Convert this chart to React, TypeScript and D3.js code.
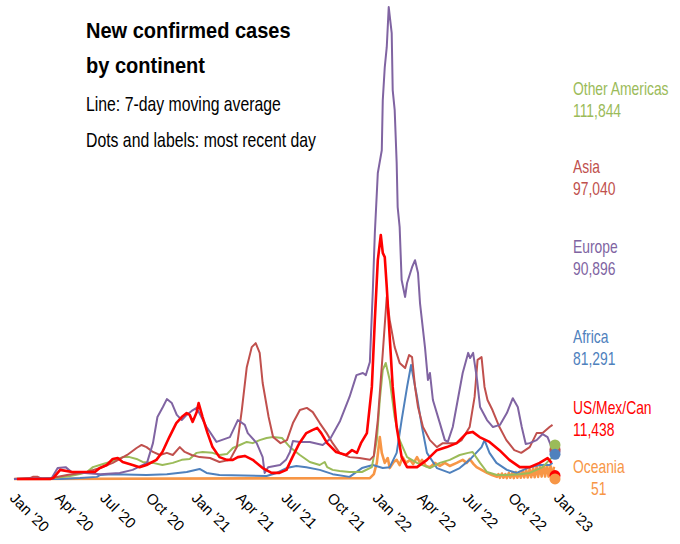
import React from "react";
import * as d3 from "d3";

// 7-day moving averages, thousands of new cases per day
const oceania: [string, number][] = [
  ["2020-01-05", 0], ["2021-12-22", 3], ["2021-12-30", 16], ["2022-01-05", 53], ["2022-01-11", 138],
  ["2022-01-15", 86], ["2022-01-21", 53], ["2022-01-27", 69], ["2022-01-31", 36], ["2022-02-08", 56],
  ["2022-02-14", 63], ["2022-02-20", 46], ["2022-02-26", 72], ["2022-03-05", 53], ["2022-03-13", 63],
  ["2022-03-19", 49], ["2022-03-27", 72], ["2022-04-02", 53], ["2022-04-06", 63], ["2022-04-14", 43],
  ["2022-04-22", 39], ["2022-05-02", 53], ["2022-05-12", 43], ["2022-05-22", 53], ["2022-06-01", 43],
  ["2022-06-15", 53], ["2022-06-27", 63], ["2022-07-05", 53], ["2022-07-11", 66], ["2022-07-19", 49],
  ["2022-07-25", 39], ["2022-08-04", 30], ["2022-08-15", 20], ["2022-08-25", 13], ["2022-09-04", 7],
  ["2022-09-07", 16], ["2022-09-10", 4], ["2022-09-14", 18], ["2022-09-17", 4], ["2022-09-21", 16],
  ["2022-09-24", 3], ["2022-09-28", 20], ["2022-10-01", 4], ["2022-10-05", 20], ["2022-10-08", 3],
  ["2022-10-12", 23], ["2022-10-15", 4], ["2022-10-19", 23], ["2022-10-22", 4], ["2022-10-26", 26],
  ["2022-10-29", 5], ["2022-11-02", 30], ["2022-11-05", 5], ["2022-11-09", 33], ["2022-11-12", 6],
  ["2022-11-16", 36], ["2022-11-19", 6], ["2022-11-23", 40], ["2022-11-26", 7], ["2022-11-30", 43],
  ["2022-12-03", 8], ["2022-12-07", 46], ["2022-12-10", 8], ["2022-12-14", 46], ["2022-12-17", 8],
  ["2022-12-21", 43], ["2022-12-24", 8], ["2022-12-28", 40],
];

const africa: [string, number][] = [
  ["2020-01-05", 0], ["2020-04-07", 0], ["2020-05-17", 3], ["2020-06-20", 7], ["2020-06-26", 13],
  ["2020-07-22", 16], ["2020-09-28", 13], ["2020-11-08", 16], ["2020-12-18", 23], ["2021-01-13", 33],
  ["2021-01-27", 20], ["2021-02-22", 13], ["2021-05-28", 10], ["2021-06-17", 20], ["2021-07-07", 36],
  ["2021-07-27", 43], ["2021-08-16", 39], ["2021-09-12", 30], ["2021-10-08", 16], ["2021-11-11", 7],
  ["2021-12-06", 36], ["2021-12-28", 46], ["2022-01-17", 36], ["2022-01-31", 39], ["2022-02-14", 86],
  ["2022-02-24", 194], ["2022-03-07", 303], ["2022-03-15", 375], ["2022-03-27", 270], ["2022-04-06", 171],
  ["2022-04-16", 86], ["2022-05-06", 36], ["2022-06-01", 20], ["2022-06-21", 36], ["2022-07-11", 63],
  ["2022-08-04", 105], ["2022-08-10", 128], ["2022-08-20", 86], ["2022-09-03", 53], ["2022-09-24", 30],
  ["2022-10-14", 20], ["2022-11-09", 39], ["2022-11-29", 46], ["2022-12-19", 46], ["2022-12-25", 53],
];

const otherAmericas: [string, number][] = [
  ["2020-01-05", 0], ["2020-03-27", 3], ["2020-04-27", 10], ["2020-05-17", 16], ["2020-05-31", 23],
  ["2020-06-12", 39], ["2020-06-26", 46], ["2020-07-16", 56], ["2020-08-11", 72], ["2020-08-25", 72],
  ["2020-09-08", 66], ["2020-09-20", 56], ["2020-10-11", 53], ["2020-10-30", 46], ["2020-11-20", 53],
  ["2020-12-08", 63], ["2020-12-24", 66], ["2021-01-07", 86], ["2021-01-19", 89], ["2021-02-08", 86],
  ["2021-02-22", 79], ["2021-03-09", 82], ["2021-03-21", 102], ["2021-04-04", 112], ["2021-04-18", 122],
  ["2021-04-30", 118], ["2021-05-14", 128], ["2021-05-28", 135], ["2021-06-10", 138], ["2021-06-28", 135],
  ["2021-07-14", 105], ["2021-08-03", 79], ["2021-08-23", 56], ["2021-09-12", 46], ["2021-09-22", 56],
  ["2021-09-27", 39], ["2021-10-08", 30], ["2021-10-22", 26], ["2021-11-11", 23], ["2021-12-06", 23],
  ["2021-12-26", 39], ["2022-01-05", 128], ["2022-01-11", 260], ["2022-01-17", 359], ["2022-01-23", 382],
  ["2022-01-31", 326], ["2022-02-10", 204], ["2022-02-20", 128], ["2022-03-07", 72], ["2022-03-27", 53],
  ["2022-04-22", 36], ["2022-05-12", 53], ["2022-06-01", 63], ["2022-06-21", 79], ["2022-07-08", 86],
  ["2022-07-17", 89], ["2022-08-01", 53], ["2022-08-15", 23], ["2022-09-04", 13], ["2022-09-24", 13],
  ["2022-10-20", 16], ["2022-11-09", 20], ["2022-12-05", 39], ["2022-12-19", 63], ["2022-12-25", 72],
];

const asia: [string, number][] = [
  ["2020-01-05", 0], ["2020-02-06", 3], ["2020-02-12", 7], ["2020-02-22", 7], ["2020-03-01", 0],
  ["2020-03-21", 3], ["2020-04-21", 13], ["2020-05-31", 23], ["2020-06-26", 36], ["2020-07-22", 53],
  ["2020-08-20", 79], ["2020-09-08", 102], ["2020-09-18", 112], ["2020-09-28", 105], ["2020-10-11", 89],
  ["2020-10-25", 79], ["2020-11-08", 86], ["2020-11-20", 79], ["2020-12-04", 105], ["2020-12-14", 89],
  ["2020-12-28", 79], ["2021-01-13", 72], ["2021-02-03", 69], ["2021-02-22", 56], ["2021-03-15", 63],
  ["2021-03-29", 105], ["2021-04-08", 227], ["2021-04-18", 368], ["2021-04-28", 434], ["2021-05-06", 447],
  ["2021-05-14", 415], ["2021-05-20", 316], ["2021-06-01", 204], ["2021-06-10", 138], ["2021-06-25", 118],
  ["2021-07-08", 128], ["2021-07-20", 184], ["2021-08-03", 227], ["2021-08-17", 234], ["2021-08-29", 220],
  ["2021-09-12", 184], ["2021-09-26", 151], ["2021-10-08", 118], ["2021-10-22", 86], ["2021-11-11", 72],
  ["2021-12-01", 69], ["2021-12-22", 63], ["2021-12-30", 76], ["2022-01-07", 194], ["2022-01-17", 415],
  ["2022-01-25", 599], ["2022-01-31", 523], ["2022-02-10", 434], ["2022-02-20", 382], ["2022-03-03", 365],
  ["2022-03-11", 408], ["2022-03-17", 401], ["2022-03-23", 303], ["2022-03-29", 237], ["2022-04-08", 171],
  ["2022-04-22", 128], ["2022-05-06", 105], ["2022-05-18", 118], ["2022-06-15", 118], ["2022-06-25", 128],
  ["2022-07-11", 171], ["2022-07-21", 270], ["2022-07-27", 392], ["2022-08-04", 401], ["2022-08-10", 303],
  ["2022-08-16", 260], ["2022-08-26", 227], ["2022-09-09", 171], ["2022-09-23", 128], ["2022-10-09", 95],
  ["2022-10-23", 86], ["2022-11-09", 105], ["2022-11-23", 151], ["2022-12-05", 151], ["2022-12-19", 171],
  ["2022-12-25", 178],
];

const europe: [string, number][] = [
  ["2020-01-05", 0], ["2020-03-21", 3], ["2020-04-02", 36], ["2020-04-18", 39], ["2020-04-30", 23],
  ["2020-05-27", 20], ["2020-06-27", 16], ["2020-08-05", 20], ["2020-08-31", 30], ["2020-09-29", 53],
  ["2020-10-11", 118], ["2020-10-20", 204], ["2020-10-31", 237], ["2020-11-08", 263], ["2020-11-18", 250],
  ["2020-11-28", 211], ["2020-12-08", 194], ["2020-12-18", 211], ["2020-12-28", 224], ["2021-01-07", 234],
  ["2021-01-27", 171], ["2021-02-16", 122], ["2021-02-26", 128], ["2021-03-15", 138], ["2021-03-31", 194],
  ["2021-04-14", 178], ["2021-04-20", 151], ["2021-05-08", 118], ["2021-05-20", 72], ["2021-05-24", 20],
  ["2021-05-31", 39], ["2021-06-24", 46], ["2021-07-06", 63], ["2021-07-14", 89], ["2021-07-20", 125],
  ["2021-08-03", 122], ["2021-08-23", 122], ["2021-09-18", 112], ["2021-10-03", 132], ["2021-10-23", 191],
  ["2021-11-11", 270], ["2021-11-25", 342], ["2021-12-08", 349], ["2021-12-14", 342], ["2021-12-22", 385],
  ["2021-12-28", 622], ["2022-01-01", 809], ["2022-01-07", 1007], ["2022-01-15", 1082], ["2022-01-17", 1247],
  ["2022-01-21", 1355], ["2022-01-25", 1421], ["2022-01-29", 1553], ["2022-02-04", 1467], ["2022-02-06", 1280],
  ["2022-02-10", 1214], ["2022-02-14", 1040], ["2022-02-16", 895], ["2022-02-20", 829], ["2022-02-24", 655],
  ["2022-03-03", 599], ["2022-03-07", 645], ["2022-03-17", 697], ["2022-03-23", 720], ["2022-03-29", 678],
  ["2022-04-02", 579], ["2022-04-12", 434], ["2022-04-18", 326], ["2022-04-22", 349], ["2022-04-28", 260],
  ["2022-05-12", 184], ["2022-05-22", 128], ["2022-05-28", 122], ["2022-06-07", 171], ["2022-06-17", 260],
  ["2022-06-27", 349], ["2022-07-08", 415], ["2022-07-12", 398], ["2022-07-18", 415], ["2022-07-26", 326],
  ["2022-08-01", 237], ["2022-08-15", 194], ["2022-08-27", 171], ["2022-09-10", 178], ["2022-09-24", 217],
  ["2022-10-06", 266], ["2022-10-16", 237], ["2022-10-24", 171], ["2022-11-01", 115], ["2022-11-09", 118],
  ["2022-11-23", 128], ["2022-12-05", 148], ["2022-12-15", 138], ["2022-12-23", 105], ["2022-12-27", 92],
];

const usMexCan: [string, number][] = [
  ["2020-01-11", 0], ["2020-03-18", 0], ["2020-03-24", 3], ["2020-04-07", 30], ["2020-05-01", 23],
  ["2020-05-31", 23], ["2020-06-16", 23], ["2020-06-26", 36], ["2020-07-10", 46], ["2020-07-22", 66],
  ["2020-08-01", 69], ["2020-08-11", 56], ["2020-08-31", 46], ["2020-09-14", 39], ["2020-09-28", 46],
  ["2020-10-18", 63], ["2020-10-30", 89], ["2020-11-13", 138], ["2020-11-27", 184], ["2020-12-08", 204],
  ["2020-12-18", 217], ["2020-12-24", 211], ["2020-12-30", 188], ["2021-01-07", 220], ["2021-01-11", 250],
  ["2021-01-19", 204], ["2021-01-29", 151], ["2021-02-08", 105], ["2021-02-22", 72], ["2021-03-09", 63],
  ["2021-03-21", 63], ["2021-03-31", 72], ["2021-04-14", 76], ["2021-04-30", 63], ["2021-05-20", 36],
  ["2021-06-07", 20], ["2021-06-23", 20], ["2021-07-07", 30], ["2021-07-19", 72], ["2021-08-02", 118],
  ["2021-08-16", 151], ["2021-08-28", 161], ["2021-09-07", 168], ["2021-09-15", 151], ["2021-09-27", 118],
  ["2021-10-15", 89], ["2021-11-04", 79], ["2021-11-16", 95], ["2021-11-26", 86], ["2021-12-04", 118],
  ["2021-12-16", 151], ["2021-12-26", 303], ["2022-01-01", 523], ["2022-01-07", 720], ["2022-01-13", 803],
  ["2022-01-17", 744], ["2022-01-21", 730], ["2022-01-25", 632], ["2022-01-31", 467], ["2022-02-06", 303],
  ["2022-02-14", 171], ["2022-02-24", 72], ["2022-03-07", 39], ["2022-03-27", 39], ["2022-04-16", 63],
  ["2022-05-06", 95], ["2022-05-26", 105], ["2022-06-15", 118], ["2022-07-05", 151], ["2022-07-17", 155],
  ["2022-07-31", 138], ["2022-08-20", 122], ["2022-09-09", 95], ["2022-09-29", 63], ["2022-10-20", 39],
  ["2022-11-09", 39], ["2022-11-29", 53], ["2022-12-15", 69], ["2022-12-23", 53],
];

const seriesNames = ["Oceania", "Africa", "Other Americas", "Asia", "Europe", "US/Mex/Can"];
const seriesData = [oceania, africa, otherAmericas, asia, europe, usMexCan];
const seriesColors = ["#F79646", "#4F81BD", "#9BBB59", "#C0504D", "#8064A2", "#FF0000"];
const seriesWidths = [2.6, 2, 2, 2, 2, 2.6];

// most recent day (raw counts)
const latestDate = "2022-12-30";
const latestValues = [51, 81291, 111844, 97040, 90896, 11438];
const labelOrder = ["Other Americas", "Asia", "Europe", "Africa", "US/Mex/Can", "Oceania"];

const tickDates = [
  "2020-01-01", "2020-04-01", "2020-07-01", "2020-10-01", "2021-01-01", "2021-04-01", "2021-07-01",
  "2021-10-01", "2022-01-01", "2022-04-01", "2022-07-01", "2022-10-01", "2023-01-01",
];
const tickLabels = [
  "Jan '20", "Apr '20", "Jul '20", "Oct '20", "Jan '21", "Apr '21", "Jul '21",
  "Oct '21", "Jan '22", "Apr '22", "Jul '22", "Oct '22", "Jan '23",
];

const W = 680;
const H = 544;
const sans = "'Liberation Sans', Arial, sans-serif";

// Arial Narrow look-alike: squeeze Liberation Sans horizontally
const Narrow = ({ x, y, sx, children, ...rest }: any) => (
  <text transform={`translate(${x},${y}) scale(${sx},1)`} {...rest}>
    {children}
  </text>
);

export default function App() {
  const parse = d3.timeParse("%Y-%m-%d");
  const x = d3
    .scaleTime()
    .domain([parse("2020-01-01")!, parse("2023-01-01")!])
    .range([12, 556]);
  const y = d3.scaleLinear().domain([0, 1550]).range([479, 8]);

  const line = d3
    .line<[string, number]>()
    .x((d) => x(parse(d[0])!))
    .y((d) => y(d[1]));

  const fmt = d3.format(",");
  // label rows, top to bottom
  const labelY = [95, 173, 253, 343, 414, 473];

  return (
    <svg width={W} height={H} style={{ position: "absolute", left: 0, top: 0, background: "#fff" }}>
      <rect width={W} height={H} fill="#fff" />
      <g fontFamily={sans} fill="#000">
        <Narrow x={86} y={38} sx={0.89} fontSize={22.5} fontWeight="bold">New confirmed cases</Narrow>
        <Narrow x={86} y={73} sx={0.89} fontSize={22.5} fontWeight="bold">by continent</Narrow>
        <Narrow x={86} y={111} sx={0.79} fontSize={20}>Line: 7-day moving average</Narrow>
        <Narrow x={86} y={147} sx={0.79} fontSize={20}>Dots and labels: most recent day</Narrow>
      </g>

      {seriesData.map((s, i) => (
        <path
          key={seriesNames[i]}
          d={line(s) ?? ""}
          fill="none"
          stroke={seriesColors[i]}
          strokeWidth={seriesWidths[i]}
          strokeLinejoin="round"
        />
      ))}

      {latestValues.map((v, i) => (
        <circle
          key={seriesNames[i] + "-dot"}
          cx={x(parse(latestDate)!)}
          cy={y(v / 1000)}
          r={5.5}
          fill={seriesColors[i]}
        />
      )).reverse()}

      <g fontFamily={sans} fontSize={19}>
        {labelOrder.map((name, row) => {
          const i = seriesNames.indexOf(name);
          return (
            <g key={name} fill={seriesColors[i]}>
              <Narrow x={573} y={labelY[row]} sx={0.73}>{name}</Narrow>
              <Narrow x={name === "Oceania" ? 591 : 573} y={labelY[row] + 22} sx={0.73}>
                {fmt(latestValues[i])}
              </Narrow>
            </g>
          );
        })}
      </g>

      <g fontFamily={sans} fontSize={15} fill="#000">
        {tickDates.map((t, i) => (
          <text key={t} transform={`translate(${x(parse(t)!) - 3},${499}) rotate(45)`}>
            {tickLabels[i]}
          </text>
        ))}
      </g>
    </svg>
  );
}
